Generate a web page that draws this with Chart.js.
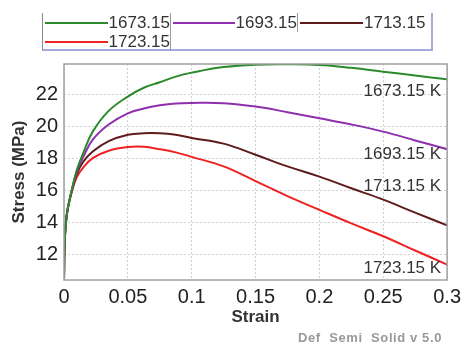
<!DOCTYPE html>
<html lang="en">
<head>
    <meta charset="UTF-8">
    <title>Stress-Strain</title>
    <script src="https://cdn.jsdelivr.net/npm/chart.js"></script>
    <style>
        body { margin: 0; padding: 0; background: #fff; font-family: 'Liberation Sans', Arial, sans-serif; }
        .wrap { position: relative; width: 466px; height: 345px; }
        .legend { position: absolute; left: 42px; top: 13px; width: 391px; height: 38px; box-sizing: border-box;
                  border-left: 1px solid #888; border-right: 2px solid #a8a8e0; border-bottom: 2px solid #a8a8e0;
                  display: grid; grid-template-columns: 128px 127px 136px; grid-auto-rows: 19px; }
        .legend .item { display: flex; align-items: center; font-size: 17px; color: #333; border-right: 1px solid #999; }
        .legend .item:nth-child(3n) { border-right: none; }
        .legend .swatch { width: 63px; height: 2px; margin: 0 1px 0 2px; }
        .stamp { position: absolute; left: 298px; top: 330px; font-size: 13px; font-weight: bold; color: #999; white-space: pre; letter-spacing: 0.6px; }
    </style>
</head>
<body>
    <div class="wrap">
        <canvas id="chart" width="466" height="345"></canvas>
        <div class="legend" id="legend"></div>
        <div class="stamp">Def  Semi  Solid v 5.0</div>
    </div>
    <script>
        // datos
        const strain = [0, 0.0005, 0.0015, 0.003, 0.006, 0.01, 0.015, 0.0225, 0.035, 0.05, 0.0625, 0.075, 0.0875, 0.1, 0.125, 0.15, 0.175, 0.2, 0.225, 0.25, 0.275, 0.3];
        const temps = ['1673.15', '1693.15', '1713.15', '1723.15'];
        const stress1673 = [10.4, 12.7, 14.0, 14.9, 16.0, 17.3, 18.35, 19.7, 21.0, 21.9, 22.45, 22.8, 23.15, 23.4, 23.75, 23.9, 23.92, 23.88, 23.7, 23.46, 23.22, 22.98];
        const stress1693 = [10.4, 12.7, 14.0, 14.9, 16.0, 17.2, 18.1, 19.2, 20.15, 20.85, 21.15, 21.35, 21.47, 21.5, 21.48, 21.27, 20.92, 20.54, 20.15, 19.7, 19.15, 18.6];
        const stress1713 = [10.4, 12.7, 14.0, 14.9, 15.95, 17.05, 17.8, 18.45, 19.1, 19.5, 19.6, 19.6, 19.5, 19.3, 18.95, 18.25, 17.52, 16.88, 16.15, 15.44, 14.62, 13.83];
        const stress1723 = [10.4, 12.7, 14.0, 14.9, 15.9, 16.85, 17.45, 18.04, 18.5, 18.73, 18.75, 18.6, 18.4, 18.12, 17.52, 16.6, 15.66, 14.8, 13.95, 13.14, 12.25, 11.37];
        const xTicks = [0, 0.05, 0.1, 0.15, 0.2, 0.25, 0.3];
        const yTicks = [12, 14, 16, 18, 20, 22];
        const endLabels = ['1673.15 K', '1693.15 K', '1713.15 K', '1723.15 K'];
        const endLabelY = [22.2, 18.3, 16.3, 11.15];

        const colors = ['#2b8a2b', '#8e2fae', '#5e1c1c', '#ee2222'];
        const series = [stress1673, stress1693, stress1713, stress1723];

        const datasets = series.map((vals, i) => ({
            label: temps[i],
            data: vals.map((v, j) => ({ x: strain[j], y: v })),
            borderColor: colors[i],
            borderWidth: 2,
            pointRadius: 0,
            fill: false,
            tension: 0.4
        }));

        // leyenda en html
        const legend = document.getElementById('legend');
        temps.forEach((t, i) => {
            const it = document.createElement('div');
            it.className = 'item';
            it.innerHTML = '<span class="swatch" style="background:' + colors[i] + '"></span>' + t;
            legend.appendChild(it);
        });

        // marco y etiquetas a la derecha
        const extras = {
            id: 'extras',
            afterDraw(chart) {
                const { ctx, chartArea: a, scales } = chart;
                ctx.save();
                ctx.strokeStyle = '#a0a0a0';
                ctx.lineWidth = 1.5;
                ctx.strokeRect(a.left, a.top, a.right - a.left, a.bottom - a.top);
                ctx.fillStyle = '#333';
                ctx.font = "17px 'Liberation Sans', Arial, sans-serif";
                ctx.textAlign = 'right';
                ctx.textBaseline = 'middle';
                endLabels.forEach((txt, i) => {
                    ctx.fillText(txt, a.right - 6, scales.y.getPixelForValue(endLabelY[i]));
                });
                ctx.restore();
            }
        };

        const tickFont = { size: 20, family: "'Liberation Sans', Arial, sans-serif" };
        const titleFont = { size: 17, weight: 'bold', family: "'Liberation Sans', Arial, sans-serif" };

        new Chart(document.getElementById('chart'), {
            type: 'line',
            data: { datasets },
            plugins: [extras],
            options: {
                responsive: false,
                animation: false,
                layout: { padding: { top: 64, right: 15, left: 0, bottom: 0 } },
                plugins: { legend: { display: false }, tooltip: { enabled: false } },
                scales: {
                    x: {
                        type: 'linear', min: 0, max: 0.3,
                        afterBuildTicks: s => { s.ticks = xTicks.map(v => ({ value: v })); },
                        afterFit: s => { s.height = 65; },
                        grid: { color: '#d0d0d0', drawTicks: false },
                        border: { display: false, dash: [2, 2] },
                        ticks: { padding: 5, color: '#222', font: tickFont, maxRotation: 0, callback: v => String(+v.toFixed(2)) },
                        title: { display: true, text: 'Strain', color: '#333', padding: { bottom: 17 }, font: titleFont }
                    },
                    y: {
                        min: 10.4, max: 23.94,
                        afterBuildTicks: s => { s.ticks = yTicks.map(v => ({ value: v })); },
                        afterFit: s => { s.width = 64; },
                        grid: { color: '#d0d0d0', drawTicks: false },
                        border: { display: false, dash: [2, 2] },
                        ticks: { padding: 6, color: '#222', font: tickFont },
                        title: { display: true, text: 'Stress (MPa)', color: '#333', padding: { top: 9 }, font: titleFont }
                    }
                }
            }
        });
    </script>
</body>
</html>
